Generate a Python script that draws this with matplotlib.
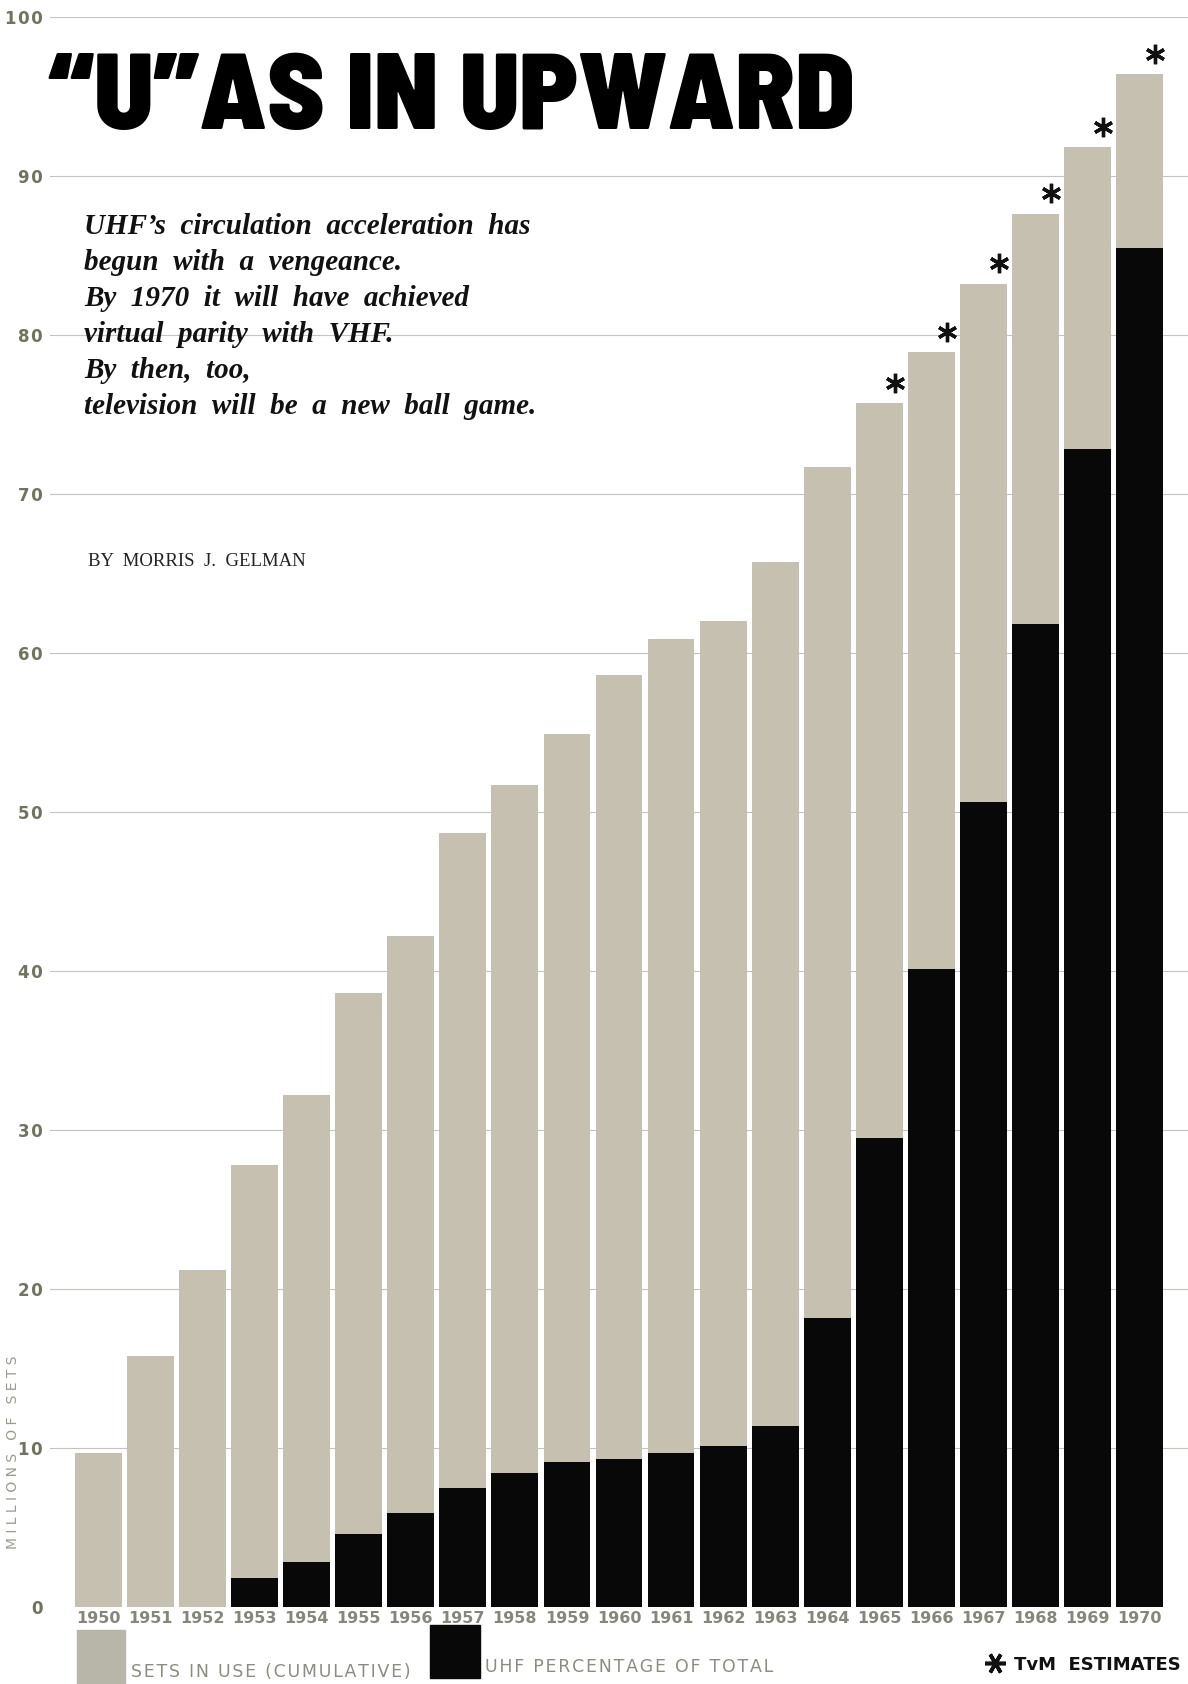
import matplotlib
matplotlib.use("Agg")
import matplotlib.pyplot as plt
import numpy as np

# data (millions of sets)
years = [1950, 1951, 1952, 1953, 1954, 1955, 1956, 1957, 1958, 1959, 1960,
         1961, 1962, 1963, 1964, 1965, 1966, 1967, 1968, 1969, 1970]
sets_in_use = [9.7, 15.8, 21.2, 27.8, 32.2, 38.6, 42.2, 48.7, 51.7, 54.9, 58.6,
               60.9, 62.0, 65.7, 71.7, 75.7, 78.9, 83.2, 87.6, 91.8, 96.4]
uhf_sets = [0, 0, 0, 1.8, 2.8, 4.6, 5.9, 7.5, 8.4, 9.1, 9.3,
            9.7, 10.1, 11.4, 18.2, 29.5, 40.1, 50.6, 61.8, 72.8, 85.5]
estimated = [1965, 1966, 1967, 1968, 1969, 1970]
yticks = [0, 10, 20, 30, 40, 50, 60, 70, 80, 90, 100]

gray = "#c5c0af"
label_col = "#72735f"

def spaced(s):
    return "\u200a".join(s)

fig = plt.figure(figsize=(11.88, 16.84), dpi=100)
ax = fig.add_axes([50/1188, 1 - 1607/1684, 1 - 50/1188, (1607 - 17)/1684])

x = np.arange(len(years))
for y in yticks[1:]:
    ax.axhline(y, color="#c4c4bc", lw=0.8, zorder=0)
ax.bar(x, sets_in_use, width=0.9, color=gray, zorder=2)
ax.bar(x, uhf_sets, width=0.9, color="#080808", zorder=3)

est_idx = [years.index(y) for y in estimated]
ax.plot(x[est_idx] + 0.3, np.array(sets_in_use)[est_idx] + 1.3, ls="none",
        marker=(6, 2, 0), ms=14, mew=2.4, color="#111111", zorder=4)

ax.set_xlim(-0.93, 20.93)
ax.set_ylim(0, 100)
for s in ax.spines.values():
    s.set_visible(False)
ax.set_yticks(yticks)
ax.set_yticklabels([spaced(str(t)) for t in yticks], fontsize=12, fontweight="bold",
                   color=label_col)
ax.tick_params(axis="y", length=0, pad=5)
ax.set_xticks(x)
ax.set_xticklabels([str(y) for y in years], fontsize=11.5, fontweight="bold",
                   color="#86877a")
ax.tick_params(axis="x", length=0, pad=3)

# title and blurb
fig.text(48/1188, 1 - 129/1684, "\u201cU\u201dAS IN UPWARD", fontsize=78,
         fontweight=900, family=["Barlow Semi Condensed", "DejaVu Sans"],
         color="black", va="baseline")
blurb = ["UHF\u2019s  circulation  acceleration  has",
         "begun  with  a  vengeance.",
         "By  1970  it  will  have  achieved",
         "virtual  parity  with  VHF.",
         "By  then,  too,",
         "television  will  be  a  new  ball  game."]
for i, line in enumerate(blurb):
    fig.text(84/1188, 1 - (226 + 36.2*i)/1684, line, fontsize=21,
             family="Liberation Serif", fontweight="bold", style="italic",
             va="center", color="#111111")
fig.text(88/1188, 1 - 562/1684, "BY  MORRIS  J.  GELMAN", fontsize=13.5,
         family="Liberation Serif", va="center", color="#222222")

fig.text(13/1188, 1 - 1452/1684, "M I L L I O N S   O F   S E T S", fontsize=10,
         rotation=90, va="center", ha="center", color="#9a9b8e")

# legend along the bottom
fig.patches.append(plt.Rectangle((77/1188, 0), 48/1188, 54/1684,
                                 transform=fig.transFigure, color="#b8b6a8"))
fig.text(131/1188, 1 - 1672/1684, spaced("SETS IN USE (CUMULATIVE)"), fontsize=12.5,
         color="#8c8d80", va="center")
fig.patches.append(plt.Rectangle((430/1188, 1 - 1678/1684), 50/1188, 53/1684,
                                 transform=fig.transFigure, color="#080808"))
fig.text(485/1188, 1 - 1667/1684, spaced("UHF PERCENTAGE OF TOTAL"), fontsize=12.5,
         color="#8c8d80", va="center")
fig.text(1181/1188, 1 - 1665/1684, "TvM  ESTIMATES", fontsize=13,
         fontweight="bold", color="#111111", va="center", ha="right")
fig.lines.append(plt.Line2D([995/1188], [1 - 1663/1684], transform=fig.transFigure,
                            marker=(6, 2, 90), ms=15, mew=2.6, color="#111111"))

fig.savefig("out.png", dpi=100)
